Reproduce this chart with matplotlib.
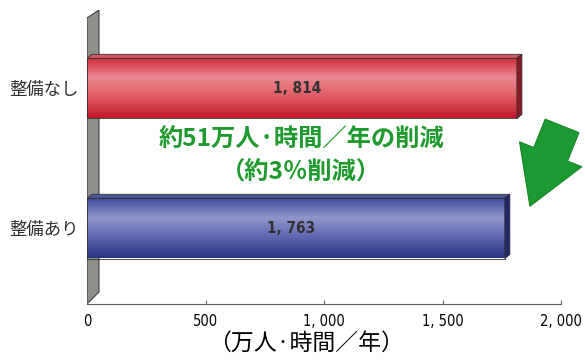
import matplotlib.pyplot as plt
import numpy as np
from matplotlib.patches import Polygon
from matplotlib.colors import LinearSegmentedColormap

plt.rcParams['font.family'] = ['Noto Sans CJK JP', 'DejaVu Sans']

cats = ["整備あり", "整備なし"]
vals = [1763, 1814]
valLabels = ["1, 763", "1, 814"]
xTicks = [0, 500, 1000, 1500, 2000]
xTickLabels = ["0", "500", "1, 000", "1, 500", "2, 000"]
xLabel = "（万人·時間／年）"
note1 = "約51万人·時間／年の削減"
note2 = "（約3％削減）"

# colours: front gradient (bottom -> top), top face, side face
barCols = [
    (["#26357f", "#5c66ae", "#9096cc", "#3a4896"], "#4a56a0", "#1e2a6a"),
    (["#c01828", "#e05862", "#ec8a92", "#d0283a"], "#d25a64", "#8a1a24"),
]

fig = plt.figure(figsize=(5.85, 3.6), dpi=100)
axW = 474
ax = fig.add_axes([87/585, 56/360, axW/585, 294/360])
xMax = 2000
yLo, yHi = -0.54, 1.56
ax.set_xlim(0, xMax)
ax.set_ylim(yLo, yHi)

h = 0.43
# depth of the 3D look in data units
dx = 5 * xMax / axW
dy = 4 * (yHi - yLo) / 294

# back wall
wx = 12 * xMax / axW
wall = Polygon([[0, yLo], [wx, yLo + 3*dy], [wx, yHi], [0, yHi - 2*dy]],
               closed=True, fc="#8c9088", ec="#404040", lw=0.8, zorder=1)
ax.add_patch(wall)

numFont = dict(family=["DejaVu Sans"], fontstretch="condensed")

for i, v in enumerate(vals):
    front, topc, sidec = barCols[i]
    y0 = i - h/2
    y1 = i + h/2
    cm = LinearSegmentedColormap.from_list("g%d" % i, front)
    grad = np.linspace(0, 1, 100).reshape(-1, 1)
    rect = plt.Rectangle((0, y0), v, h, fc="none", ec="#303030", lw=0.6, zorder=3)
    ax.add_patch(rect)
    im = ax.imshow(grad, extent=[0, v, y0, y1], aspect="auto", cmap=cm,
                   origin="lower", zorder=2)
    im.set_clip_path(rect)
    top = Polygon([[0, y1], [v, y1], [v + dx, y1 + dy], [dx, y1 + dy]],
                  closed=True, fc=topc, ec="#303030", lw=0.6, zorder=3)
    side = Polygon([[v, y0], [v + dx, y0 + dy], [v + dx, y1 + dy], [v, y1]],
                   closed=True, fc=sidec, ec="#303030", lw=0.6, zorder=3)
    ax.add_patch(top)
    ax.add_patch(side)
    ax.text(v/2 - 20, i, valLabels[i], ha="center", va="center", fontsize=11,
            color="#303030", fontweight="bold", zorder=4, **numFont)

ax.set_yticks(range(len(cats)))
ax.set_yticklabels(cats, fontsize=12.5, color="#303030")
ax.tick_params(axis="y", length=0, pad=6)
ax.set_xticks(xTicks)
ax.set_xticklabels(xTickLabels, fontsize=10.5, **numFont)
ax.tick_params(axis="x", direction="in", length=3, color="#606060", pad=7)
for s in ["top", "right", "left"]:
    ax.spines[s].set_visible(False)
ax.spines["bottom"].set_color("#606060")
ax.set_xlabel(xLabel, fontsize=16.5)
ax.xaxis.set_label_coords(0.463, -0.095)

green = "#1f9a2e"
ax.text(904, 0.63, note1, ha="center", va="center", fontsize=17.5,
        color=green, fontweight="bold")
ax.text(904, 0.40, note2, ha="center", va="center", fontsize=17.5,
        color=green, fontweight="bold")

ax.annotate("", xy=(530, 360-206), xytext=(562, 360-126),
            xycoords="figure pixels", textcoords="figure pixels",
            arrowprops=dict(arrowstyle="simple,head_width=2.4,head_length=2.0,tail_width=1.3",
                            mutation_scale=20, fc="#1a9a30", ec="#1a8a2a",
                            shrinkA=0, shrinkB=0))

fig.savefig("out.png", dpi=100)
